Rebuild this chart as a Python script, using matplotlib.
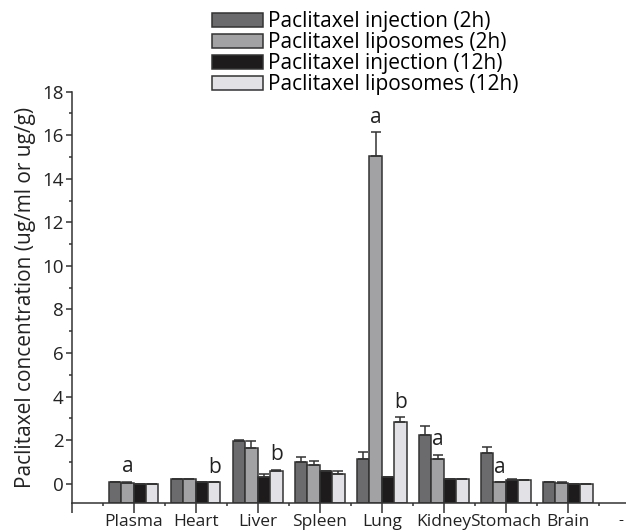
import numpy as np
import matplotlib
matplotlib.use("Agg")
import matplotlib.pyplot as plt
from matplotlib.ticker import MultipleLocator

plt.rcParams["font.family"] = ["Open Sans", "DejaVu Sans"]

organs = ["Plasma", "Heart", "Liver", "Spleen", "Lung", "Kidney", "Stomach", "Brain"]
series = ["Paclitaxel injection (2h)", "Paclitaxel liposomes (2h)",
          "Paclitaxel injection (12h)", "Paclitaxel liposomes (12h)"]

inj_2h = [0.07, 0.23, 1.98, 0.98, 1.13, 2.25, 1.42, 0.07]
inj_2h_err = [0.02, 0.0, 0.04, 0.24, 0.32, 0.38, 0.26, 0.0]
lipo_2h = [0.04, 0.23, 1.65, 0.88, 15.05, 1.13, 0.07, 0.02]
lipo_2h_err = [0.05, 0.0, 0.30, 0.18, 1.10, 0.20, 0.0, 0.05]
inj_12h = [0.0, 0.07, 0.32, 0.60, 0.30, 0.23, 0.19, 0.0]
inj_12h_err = [0.0, 0.0, 0.12, 0.0, 0.0, 0.0, 0.03, 0.0]
lipo_12h = [0.0, 0.07, 0.60, 0.45, 2.85, 0.23, 0.15, 0.0]
lipo_12h_err = [0.0, 0.0, 0.05, 0.15, 0.20, 0.0, 0.04, 0.0]

# (organ index, series index, letter)
marks = [(0, 1, "a"), (1, 3, "b"), (2, 3, "b"), (4, 1, "a"),
         (4, 3, "b"), (5, 1, "a"), (6, 1, "a")]

colors = ["#6b6b6d", "#a2a2a4", "#1e1b1c", "#e2e2e6"]
edge = "#333333"

values = [inj_2h, lipo_2h, inj_12h, lipo_12h]
errors = [inj_2h_err, lipo_2h_err, inj_12h_err, lipo_12h_err]

fig = plt.figure(figsize=(6.26, 5.32), dpi=100)
ax = fig.add_axes([0.1145, 0.054, 0.941, 0.7737])

ymin = -0.9
x = np.arange(len(organs))
w = 0.2
offsets = [-0.3, -0.1, 0.1, 0.3]

handles = []
for vals, errs, off, c, name in zip(values, errors, offsets, colors, series):
    vals = np.array(vals)
    h = ax.bar(x + off, vals - ymin, w, bottom=ymin, color=c,
               edgecolor=edge, linewidth=1.1, label=name, zorder=2)
    handles.append(h)
    errs = np.array(errs)
    ax.errorbar(x + off, vals, yerr=[np.zeros_like(errs), errs], fmt="none",
                ecolor=edge, elinewidth=1.1, capsize=3.5, capthick=1.1, zorder=3)

for i, s, letter in marks:
    top = values[s][i] + errors[s][i]
    ax.text(i + offsets[s], top + 0.2, letter, ha="center", va="bottom",
            fontsize=15, color="#222222")

ax.set_xlim(-1, 8.5)
ax.set_ylim(ymin, 18)
ax.set_xticks(np.arange(-1, 9))
ax.set_xticklabels([""] + organs + [""])
ax.xaxis.set_minor_locator(MultipleLocator(0.5))
ax.set_yticks(np.arange(0, 19, 2))
ax.set_yticks(np.arange(1, 18, 2), minor=True)

for side in ["top", "right"]:
    ax.spines[side].set_visible(False)
for side in ["left", "bottom"]:
    ax.spines[side].set_color("#333333")
    ax.spines[side].set_linewidth(1.1)

ax.tick_params(axis="both", which="major", direction="out", length=4,
               width=1.1, color="#333333", labelsize=13.5, labelcolor="#222222")
ax.tick_params(axis="both", which="minor", direction="out", length=2.5,
               width=1.1, color="#333333")
ax.tick_params(axis="x", which="major", length=7.5, pad=0.5, labelsize=12.5)
ax.tick_params(axis="y", which="major", pad=2)

ax.set_ylabel("Paclitaxel concentration (ug/ml or ug/g)", fontsize=15,
              color="#222222", labelpad=4)
# stray dash at the right end of the category axis
ax.text(7.85, ymin - 0.78, "-", ha="center", va="center", fontsize=11,
        color="#222222", clip_on=False)

fig.legend(handles=handles, labels=series, loc="upper left",
           bbox_to_anchor=(212 / 626, 1 - 11 / 532), frameon=False,
           fontsize=15, handlelength=2.45, handleheight=0.65,
           handletextpad=0.25, labelspacing=0.0, borderpad=0,
           borderaxespad=0)

fig.savefig("out.png", dpi=100)
